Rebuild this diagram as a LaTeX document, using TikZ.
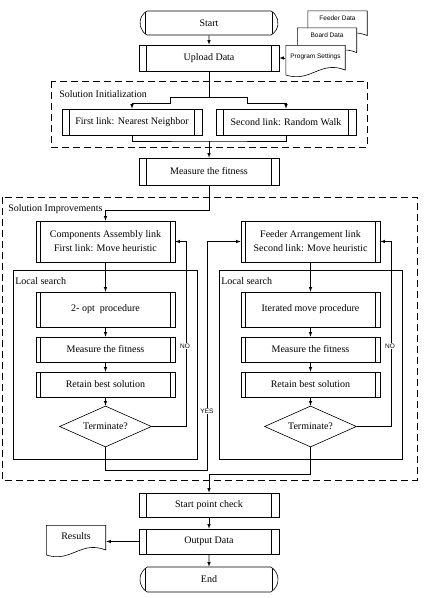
\documentclass[tikz,border=0pt]{standalone}
\usepackage{fontspec}
\setmainfont{Liberation Serif}
\setsansfont{Liberation Sans}
\usetikzlibrary{shapes.geometric,shapes.misc}

\tikzset{
  proc/.style={draw, fill=white, minimum width=140, minimum height=26,
    inner sep=1pt, align=center,
    path picture={
      \draw ([xshift=#1]path picture bounding box.north west) -- ([xshift=#1]path picture bounding box.south west);
      \draw ([xshift=-#1]path picture bounding box.north east) -- ([xshift=-#1]path picture bounding box.south east);
    }},
  proc/.default=7.5pt,
  lsbox/.style={proc=4.3pt, minimum width=139, minimum height=25},
  term/.style={proc, rounded rectangle, rounded rectangle arc length=120, minimum height=24},
  decision/.style={diamond, draw, fill=white, aspect=2.2, inner sep=0pt,
    minimum width=92, minimum height=41},
  doc/.style={fill=white, minimum width=60, minimum height=33, inner sep=1pt, text depth=#1,
    path picture={
      \draw ([shift={(0.3,0.3)}]path picture bounding box.north west)
        -- ([shift={(-0.3,0.3)}]path picture bounding box.north east)
        -- ([shift={(-0.3,-8)}]path picture bounding box.south east)
        .. controls +(-25,-10) and +(25,8) .. ([shift={(0.3,-3)}]path picture bounding box.south west)
        -- cycle;
    }},
  doc/.default=10pt,
  grp/.style={dash pattern=on 7pt off 4pt, line width=0.9pt},
  grplabel/.style={anchor=west, inner sep=0pt},
  small/.style={font=\sffamily\fontsize{6.5}{8}\selectfont},
  yesno/.style={small, fill=white, inner sep=1pt}
}

\begin{document}
\begin{tikzpicture}[x=1pt, y=-1pt, line width=0.6pt, >=latex]
\useasboundingbox (0,0) rectangle (428,598);
% Start and input data
\node[term] (start) at (209,23) {Start};
\node[proc] (upload) at (209,58) {Upload Data};
\node[doc=17pt, small] (feeder) at (337.5,27) {Feeder Data};
\node[doc=17pt, small] (board) at (327,44) {Board Data};
\node[doc, small] (prog) at (315.5,61.5) {Program Settings};
\draw[->] (start) -- (upload);
\draw[->] (prog.west |- upload.east) -- (upload.east);
% Solution initialization
\draw[grp] (51,81) rectangle (367,147);
\node[grplabel] (initlbl) at (59,94) {Solution Initialization};
\node[proc] (link1) at (132,122) {First link: Nearest Neighbor};
\node[proc] (link2) at (286,122) {Second link: Random Walk};
\node[proc, minimum height=27] (fit0) at (209,171.5) {Measure the fitness};
\coordinate (split) at (209,97.5);
\coordinate (merge) at (209,141);
\draw (upload.south) -- (split);
\draw[->] (split) -| (170,103.5) -| (link1.north);
\draw[->] (split) -| (247,103.5) -| (link2.north);
\draw (link1.south) |- (merge) -| (link2.south);
\draw[->] (merge) -- (fit0.north);
% Solution improvements
\draw[grp] (2,197) rectangle (417,480);
\node[grplabel] (implbl) at (8,209) {Solution Improvements};
\draw (13,270) rectangle (197,459);
\draw (219,270) rectangle (402,459);
\node[grplabel] (ls1) at (15,281) {Local search};
\node[grplabel] (ls2) at (221,281) {Local search};
% First link column
\node[lsbox, minimum height=41, font=\fontsize{10}{14}\selectfont] (comp) at (105.5,241.5)
  {Components Assembly link\\First link: Move heuristic};
\node[lsbox, minimum height=35] (opt1) at (105.5,309.5) {2- opt\ \ procedure};
\node[lsbox] (fit1) at (105.5,349.5) {Measure the fitness};
\node[lsbox] (ret1) at (105.5,384.5) {Retain best solution};
\node[decision] (term1) at (105.5,426.5) {Terminate?};
% Second link column
\node[lsbox, minimum height=41, font=\fontsize{10}{14}\selectfont] (feed) at (310.5,241.5)
  {Feeder Arrangement link\\Second link: Move heuristic};
\node[lsbox, minimum height=35] (opt2) at (310.5,309.5) {Iterated move procedure};
\node[lsbox] (fit2) at (310.5,349.5) {Measure the fitness};
\node[lsbox] (ret2) at (310.5,384.5) {Retain best solution};
\node[decision] (term2) at (310.5,426.5) {Terminate?};
% Connections inside the improvements
\draw[->] (fit0.south) -- ++(0,25) -| (comp.north);
\draw[->] (comp) -- (opt1);
\draw[->] (opt1) -- (fit1);
\draw[->] (fit1) -- (ret1);
\draw[->] (ret1) -- (term1);
\draw[->] (feed) -- (opt2);
\draw[->] (opt2) -- (fit2);
\draw[->] (fit2) -- (ret2);
\draw[->] (ret2) -- (term2);
\draw[->] (term1.east) -- ++(34,0) |- (comp.east);
\draw[->] (term2.east) -- ++(34.5,0) |- (feed.east);
\coordinate (yes) at (207,470);
\coordinate (join) at (209,474);
\draw[->] (term1.south) |- (yes) |- (feed.west);
\node[yesno] (no1) at (185,346) {NO};
\node[yesno] (no2) at (390,346) {NO};
\node[yesno] (yes1) at (207,411) {YES};
% Output
\node[proc, minimum height=24] (check) at (209,505) {Start point check};
\node[proc, minimum height=25] (output) at (209,541.5) {Output Data};
\node[term, minimum height=25] (stop) at (209,579.5) {End};
\node[doc] (results) at (76,541.5) {Results};
\draw[->] (term2.south) |- (join) -- (check.north);
\draw[->] (check) -- (output);
\draw[->] (output) -- (stop);
\draw[->] (output.west) -- (results.east);
\end{tikzpicture}
\end{document}
